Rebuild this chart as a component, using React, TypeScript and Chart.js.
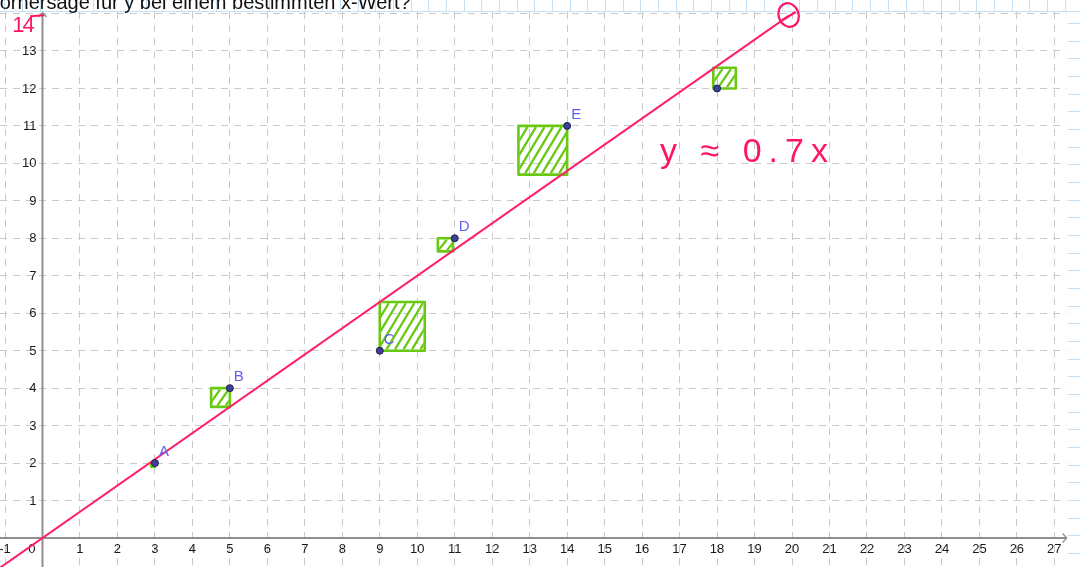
import React, { useEffect, useRef } from 'react';
import { Chart, registerables } from 'chart.js';

Chart.register(...registerables);

// ---- data ----
const pointNames = ['A', 'B', 'C', 'D', 'E', ''];
const pointX = [3, 5, 9, 11, 14, 18];
const pointY = [2, 4, 5, 8, 11, 12];

// regression line y ≈ 0.7x (end points)
const lineX = [-1.2, 19.9];
const lineY = [-0.84, 13.93];

// hand-drawn residual squares (data coordinates)
const squareX0 = [2.9, 4.5, 9.0, 10.55, 12.7, 17.9];
const squareX1 = [3.0, 5.0, 10.2, 10.95, 14.0, 18.5];
const squareY0 = [1.9, 3.5, 5.0, 7.65, 9.7, 12.0];
const squareY1 = [2.0, 4.0, 6.3, 8.0, 11.0, 12.55];

const xTickValues = [-1, 1, 2, 3, 4, 5, 6, 7, 8, 9, 10, 11, 12, 13, 14, 15, 16, 17, 18, 19, 20, 21, 22, 23, 24, 25, 26, 27];
const xTickLabels = ['-1', '1', '2', '3', '4', '5', '6', '7', '8', '9', '10', '11', '12', '13', '14', '15', '16', '17', '18', '19', '20', '21', '22', '23', '24', '25', '26', '27'];
const yTickValues = [1, 2, 3, 4, 5, 6, 7, 8, 9, 10, 11, 12, 13];
const yTickLabels = ['1', '2', '3', '4', '5', '6', '7', '8', '9', '10', '11', '12', '13'];
const originLabel = '0';

const viewX = [-1.134, 27.33];
const viewY = [-0.774, 14.04];

const headline = 'Vorhersage für y bei einem bestimmten x-Wert?';
const formulaNote = 'y ≈ 0.7x';
const formulaAt = [16.48, 10.03];
const axisNote = '14';
const axisNoteAt = [-0.81, 13.5];
const circleAt = [19.91, 13.96];

// ---- styles ----
const GREEN = '#69c912';
const PINK = '#ff1f6e';
const INK = '#ff1566';
const AXIS = '#8f8f8f';
const NOTEBOOK = '#c3e2f8';

const backgroundPlugin = {
  id: 'pageBackground',
  beforeDraw(chart: any) {
    const { ctx, width, height, chartArea } = chart;
    ctx.save();
    ctx.fillStyle = '#ffffff';
    ctx.fillRect(0, 0, width, height);
    ctx.strokeStyle = NOTEBOOK;
    ctx.lineWidth = 1;
    ctx.beginPath();
    ctx.moveTo(0, chartArea.top - 0.5);
    ctx.lineTo(width, chartArea.top - 0.5);
    for (let x = 905.5; x > 0; x -= 17.67) {
      ctx.moveTo(Math.round(x) + 0.5, 0);
      ctx.lineTo(Math.round(x) + 0.5, chartArea.top);
    }
    for (let x = 905.5 + 17.67; x < width; x += 17.67) {
      ctx.moveTo(Math.round(x) + 0.5, 0);
      ctx.lineTo(Math.round(x) + 0.5, chartArea.top);
    }
    for (let y = 23; y < height; y += 17.67) {
      ctx.moveTo(chartArea.right + 1, Math.round(y) + 0.5);
      ctx.lineTo(width, Math.round(y) + 0.5);
    }
    ctx.stroke();
    ctx.restore();
  },
};

function hatchRect(ctx: CanvasRenderingContext2D, l: number, t: number, r: number, b: number) {
  const w = r - l;
  const h = b - t;
  ctx.save();
  ctx.beginPath();
  ctx.rect(l + 1, t + 1, w - 2, h - 2);
  ctx.clip();
  ctx.strokeStyle = GREEN;
  ctx.lineWidth = 2.3;
  ctx.lineCap = 'round';
  const slant = h * 0.55;
  for (let d = -slant; d < w + 4; d += 8.5) {
    ctx.beginPath();
    ctx.moveTo(l + d, b - 2);
    ctx.lineTo(l + d + slant, t + 2);
    ctx.stroke();
  }
  ctx.restore();
}

const decorPlugin = {
  id: 'geogebraDecor',
  beforeDatasetsDraw(chart: any) {
    const { ctx, chartArea } = chart;
    const xs = chart.scales.x;
    const ys = chart.scales.y;
    for (let i = 0; i < squareX0.length; i++) {
      const l = xs.getPixelForValue(squareX0[i]);
      const r = xs.getPixelForValue(squareX1[i]);
      const t = ys.getPixelForValue(squareY1[i]);
      const b = ys.getPixelForValue(squareY0[i]);
      hatchRect(ctx, l, t, r, b);
    }
    const ox = xs.getPixelForValue(0);
    const oy = ys.getPixelForValue(0);
    ctx.save();
    ctx.strokeStyle = AXIS;
    ctx.lineWidth = 2;
    ctx.beginPath();
    ctx.moveTo(chartArea.left, oy);
    ctx.lineTo(chartArea.right, oy);
    ctx.moveTo(ox, chartArea.bottom);
    ctx.lineTo(ox, chartArea.top + 1);
    ctx.stroke();
    ctx.lineWidth = 1.3;
    ctx.beginPath();
    ctx.moveTo(chartArea.right - 4, oy - 4.5);
    ctx.lineTo(chartArea.right, oy);
    ctx.lineTo(chartArea.right - 4, oy + 4.5);
    ctx.moveTo(ox - 4, chartArea.top + 5);
    ctx.lineTo(ox, chartArea.top + 0.5);
    ctx.lineTo(ox + 4, chartArea.top + 5);
    ctx.stroke();
    ctx.fillStyle = '#1a1a1a';
    ctx.font = '13px "Liberation Sans", Arial, sans-serif';
    ctx.textAlign = 'center';
    ctx.textBaseline = 'top';
    xTickValues.forEach((v, i) => {
      ctx.fillText(xTickLabels[i], xs.getPixelForValue(v), oy + 5);
    });
    ctx.textAlign = 'right';
    ctx.fillText(originLabel, ox - 7, oy + 5);
    ctx.textBaseline = 'middle';
    yTickValues.forEach((v, i) => {
      ctx.fillText(yTickLabels[i], ox - 6, ys.getPixelForValue(v) + 0.5);
    });
    ctx.restore();
  },
  afterDatasetsDraw(chart: any) {
    const { ctx } = chart;
    const meta = chart.getDatasetMeta(0);
    ctx.save();
    ctx.fillStyle = '#5f5ff2';
    ctx.font = '15px "Liberation Sans", Arial, sans-serif';
    ctx.textAlign = 'left';
    ctx.textBaseline = 'alphabetic';
    meta.data.forEach((el: any, i: number) => {
      if (pointNames[i]) ctx.fillText(pointNames[i], el.x + 4, el.y - 7);
    });
    ctx.restore();
  },
  afterDraw(chart: any) {
    const { ctx } = chart;
    const xs = chart.scales.x;
    const ys = chart.scales.y;
    ctx.save();
    const cx = xs.getPixelForValue(circleAt[0]);
    const cy = ys.getPixelForValue(circleAt[1]);
    ctx.strokeStyle = INK;
    ctx.lineWidth = 2.2;
    ctx.beginPath();
    ctx.ellipse(cx, cy, 10, 12, -0.35, 0, Math.PI * 2);
    ctx.stroke();
    ctx.beginPath();
    ctx.moveTo(cx - 6, cy + 5);
    ctx.lineTo(cx + 7, cy - 3);
    ctx.stroke();
    ctx.fillStyle = INK;
    ctx.font = '22px "Liberation Sans", Arial, sans-serif';
    ctx.textAlign = 'left';
    ctx.textBaseline = 'alphabetic';
    const nx = xs.getPixelForValue(axisNoteAt[0]);
    const ny = ys.getPixelForValue(axisNoteAt[1]);
    (ctx as any).letterSpacing = '-2px';
    ctx.fillText(axisNote, nx, ny);
    (ctx as any).letterSpacing = '0px';
    ctx.beginPath();
    ctx.moveTo(nx + 18, ny - 16);
    ctx.lineTo(nx + 32, ny - 17);
    ctx.stroke();
    ctx.font = '34px "Liberation Sans", Arial, sans-serif';
    (ctx as any).letterSpacing = '7px';
    ctx.fillText(formulaNote, xs.getPixelForValue(formulaAt[0]), ys.getPixelForValue(formulaAt[1]));
    (ctx as any).letterSpacing = '0px';
    ctx.fillStyle = '#111111';
    ctx.font = '20px "Liberation Sans", Arial, sans-serif';
    ctx.fillText(headline, -12.5, 8.5);
    ctx.restore();
  },
};

export default function App() {
  const ref = useRef<HTMLCanvasElement | null>(null);

  useEffect(() => {
    document.body.style.margin = '0';
    const canvas = ref.current;
    if (!canvas) return;

    const squareSets = squareX0.map((_, i) => ({
      type: 'line' as const,
      data: [
        { x: squareX0[i], y: squareY0[i] },
        { x: squareX1[i], y: squareY0[i] },
        { x: squareX1[i], y: squareY1[i] },
        { x: squareX0[i], y: squareY1[i] },
        { x: squareX0[i], y: squareY0[i] },
      ],
      borderColor: GREEN,
      borderWidth: 2.6,
      pointRadius: 0,
      showLine: true,
      fill: false,
      tension: 0,
      order: 3,
      borderJoinStyle: 'round' as const,
    }));

    const chart = new Chart(canvas, {
      type: 'scatter',
      data: {
        datasets: [
          {
            data: pointX.map((x, i) => ({ x, y: pointY[i] })),
            pointRadius: 3.5,
            pointBackgroundColor: '#3f3f96',
            pointBorderColor: '#20204f',
            pointBorderWidth: 1,
            showLine: false,
            order: 0,
          },
          {
            type: 'line',
            data: lineX.map((x, i) => ({ x, y: lineY[i] })),
            borderColor: PINK,
            borderWidth: 2,
            pointRadius: 0,
            showLine: true,
            fill: false,
            order: 1,
            clip: false,
          } as any,
          ...(squareSets as any[]),
        ],
      },
      options: {
        animation: false,
        responsive: false,
        events: [],
        layout: { autoPadding: false, padding: { top: 12, right: 13.3, left: 0, bottom: 0 } },
        plugins: {
          legend: { display: false },
          tooltip: { enabled: false },
        },
        scales: {
          x: {
            type: 'linear',
            min: viewX[0],
            max: viewX[1],
            afterFit: (s: any) => { s.height = 0; },
            ticks: { display: false, stepSize: 1, includeBounds: false, maxTicksLimit: 100 },
            grid: { color: '#c9c9c9', lineWidth: 1, drawTicks: false },
            border: { display: false, dash: [7, 6] },
          },
          y: {
            type: 'linear',
            min: viewY[0],
            max: viewY[1],
            afterFit: (s: any) => { s.width = 0; },
            ticks: { display: false, stepSize: 1, includeBounds: false, maxTicksLimit: 100 },
            grid: { color: '#c9c9c9', lineWidth: 1, drawTicks: false },
            border: { display: false, dash: [7, 6] },
          },
        },
      } as any,
      plugins: [backgroundPlugin, decorPlugin],
    });

    return () => chart.destroy();
  }, []);

  return (
    <div style={{ position: 'fixed', left: 0, top: 0, width: 1080, height: 567, background: '#fff' }}>
      <canvas ref={ref} width={1080} height={567} style={{ display: 'block' }} />
    </div>
  );
}
